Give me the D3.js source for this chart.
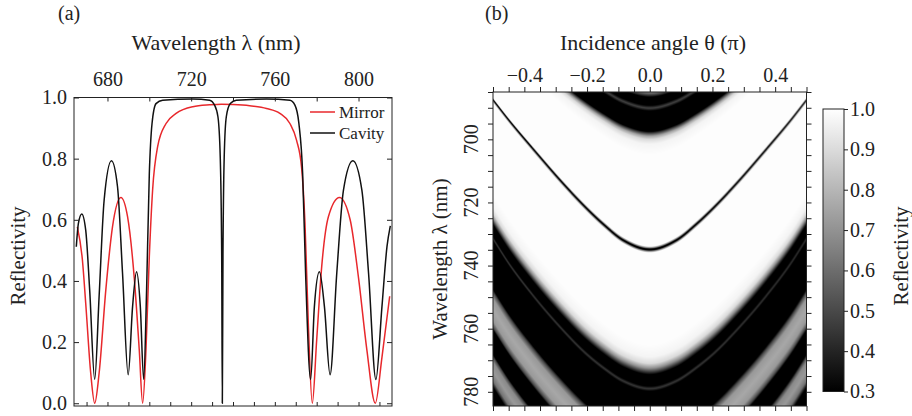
<!DOCTYPE html>
<html>
<head>
<meta charset="utf-8">
<script src="https://cdn.jsdelivr.net/npm/d3@7"></script>
<style>
body { margin: 0; background: #fff; }
svg { font-family: "Liberation Serif", "Times New Roman", serif; }
.axis line { stroke: #222; }
.axis path { display: none; }
.axis text { font-size: 20px; fill: #222; font-family: "Liberation Serif", "Times New Roman", serif; }
</style>
</head>
<body>
<svg id="fig" width="912" height="416"></svg>
<script>
// ---- panel (a): reflectivity spectra ----
var wlMirror = [665.6, 668, 669.6, 672, 673.9, 676, 679.2, 682.4, 686.4, 689.6, 692.8, 695.2, 696.8, 698.4, 700, 701.6, 704, 708, 712.8, 720.8, 728.8, 734.4, 740, 748, 756, 762.4, 767.2, 770.4, 772.8, 774.4, 776, 777.9, 780, 782.4, 785.6, 790.9, 796, 800, 804, 808, 811.2, 814.9];
var rMirror = [0.577, 0.47, 0.327, 0.098, 0.0, 0.098, 0.37, 0.577, 0.673, 0.61, 0.41, 0.174, 0.0, 0.174, 0.48, 0.70, 0.84, 0.915, 0.948, 0.97, 0.976, 0.978, 0.977, 0.973, 0.964, 0.948, 0.915, 0.86, 0.77, 0.59, 0.26, 0.0, 0.207, 0.447, 0.61, 0.673, 0.6, 0.41, 0.174, 0.0, 0.15, 0.35];

var wlCavity = [665.1, 666.1, 667.7, 669.6, 671.5, 673.9, 676, 678.4, 681.9, 684.8, 687.2, 689.9, 692, 693.9, 695.7, 697.3, 698.7, 700, 701.3, 703.2, 706.4, 720.8, 728.8, 731.2, 732.8, 733.9, 734.6, 734.9, 735.2, 735.8, 736.8, 738.7, 741.6, 756, 767.2, 769.6, 771.5, 773.3, 774.7, 777.1, 778.9, 781.3, 783.7, 786.4, 789.6, 792.8, 797.3, 801.6, 804.8, 808.3, 811.2, 813.6, 815.2];
var rCavity = [0.512, 0.588, 0.619, 0.566, 0.37, 0.078, 0.349, 0.664, 0.793, 0.708, 0.425, 0.093, 0.316, 0.43, 0.316, 0.078, 0.37, 0.75, 0.915, 0.98, 0.991, 0.995, 0.991, 0.975, 0.937, 0.806, 0.48, 0.0, 0.48, 0.806, 0.937, 0.98, 0.991, 0.995, 0.991, 0.975, 0.915, 0.75, 0.425, 0.078, 0.316, 0.43, 0.316, 0.093, 0.425, 0.697, 0.793, 0.697, 0.425, 0.078, 0.316, 0.512, 0.58];

var seriesNames = ["Mirror", "Cavity"];
var seriesColors = ["#e8282c", "#111"];

var topTicksA = [680, 700, 720, 740, 760, 780, 800];
var topLabelsA = [680, 720, 760, 800];
var bottomTicksA = [670, 680, 690, 700, 710, 720, 730, 740, 750, 760, 770, 780, 790, 800, 810];
var yTicksA = [0, 0.2, 0.4, 0.6, 0.8, 1.0];

// ---- panel (b): angle-resolved reflectivity map ----
// reflectivity profile at normal incidence, read down the map (centre column, then edge column)
var mapLambda = [680, 684, 685, 686, 686.8, 688, 689.2, 690.1, 691, 692, 694, 696.5, 697.5, 698.3, 699, 700, 701.5, 705, 733.9, 734.45, 734.9, 735.35, 735.9, 765, 769, 771, 772.5, 774, 775.3, 777, 778.2, 779, 779.8, 781, 790, 794, 796, 798, 801.5, 805, 807, 808.5, 811.5, 815, 816.5, 818, 821, 824, 826, 827.5, 840];
var mapR = [0.8, 0.78, 0.68, 0.45, 0.25, 0.1, 0.3, 0.48, 0.3, 0.1, 0.05, 0.1, 0.3, 0.55, 0.75, 0.9, 0.97, 0.995, 0.995, 0.6, 0.05, 0.6, 0.995, 0.995, 0.97, 0.9, 0.7, 0.4, 0.15, 0.1, 0.3, 0.45, 0.3, 0.1, 0.05, 0.1, 0.5, 0.72, 0.76, 0.72, 0.5, 0.15, 0.05, 0.15, 0.5, 0.68, 0.72, 0.62, 0.3, 0.1, 0.05];

// blue shift (nm) of three features versus |theta|, read along each feature
var featureTheta = [0, 0.084, 0.148, 0.211, 0.286, 0.36, 0.445, 0.5];
var shiftTop = [0, 2.1, 5.7, 9.9, 15.6, 21.7, 28.8, 33.7];      // upper band edge (699 nm)
var shiftMode = [0, 2.9, 8.0, 14.0, 22, 30.5, 40.5, 47.5];      // cavity mode (735 nm)
var shiftBottom = [0, 2.4, 6.6, 11.8, 19.5, 28, 39, 47.5];      // lower band edge (773 nm)
var shiftAnchor = [699, 735, 773];

var thetaTicks = d3.range(-10, 11).map(function(i) { return i * 5; });   // in 1/100
var lambdaTicks = d3.range(685, 785, 5);
var lambdaLabels = [700, 720, 740, 760, 780];
var cbarTicks = [0.3, 0.4, 0.5, 0.6, 0.7, 0.8, 0.9, 1.0];

// monotone cubic through read points, flat at theta = 0
function smoothCurve(xs, ys) {
    var n = xs.length, d = [], m = [];
    for (var i = 0; i < n - 1; i++) d[i] = (ys[i + 1] - ys[i]) / (xs[i + 1] - xs[i]);
    m[0] = 0; m[n - 1] = d[n - 2];
    for (i = 1; i < n - 1; i++) m[i] = d[i - 1] * d[i] <= 0 ? 0 : (d[i - 1] + d[i]) / 2;
    return function(x) {
        var k = Math.max(0, Math.min(n - 2, d3.bisectRight(xs, x) - 1));
        var h = xs[k + 1] - xs[k], t = (x - xs[k]) / h, t2 = t * t, t3 = t2 * t;
        return (2 * t3 - 3 * t2 + 1) * ys[k] + (t3 - 2 * t2 + t) * h * m[k]
            + (-2 * t3 + 3 * t2) * ys[k + 1] + (t3 - t2) * h * m[k + 1];
    };
}

var svg = d3.select("#fig");
svg.append("rect").attr("width", 912).attr("height", 416).attr("fill", "#fff");

// ================= panel (a) =================
var xA = d3.scaleLinear().domain([664, 816]).range([74, 392]);
var yA = d3.scaleLinear().domain([-0.009, 1]).range([406, 97.5]);

svg.append("clipPath").attr("id", "clipA").append("rect")
    .attr("x", 74).attr("y", 97.5).attr("width", 318).attr("height", 308.5);

var line = d3.line()
    .x(function(d) { return xA(d[0]); })
    .y(function(d) { return yA(d[1]); })
    .curve(d3.curveMonotoneX);

var gA = svg.append("g").attr("clip-path", "url(#clipA)");
gA.append("path").datum(d3.zip(wlMirror, rMirror))
    .attr("d", line).attr("fill", "none").attr("stroke", seriesColors[0]).attr("stroke-width", 1.5);
gA.append("path").datum(d3.zip(wlCavity, rCavity))
    .attr("d", line).attr("fill", "none").attr("stroke", seriesColors[1]).attr("stroke-width", 1.5);

svg.append("g").attr("class", "axis").attr("transform", "translate(0,97.5)")
    .call(d3.axisTop(xA).tickValues(topTicksA).tickSize(-4).tickSizeOuter(0).tickPadding(12)
        .tickFormat(function(d) { return topLabelsA.indexOf(d) >= 0 ? d : ""; }));
svg.append("g").attr("class", "axis").attr("transform", "translate(0,406)")
    .call(d3.axisBottom(xA).tickValues(bottomTicksA).tickSize(-4).tickSizeOuter(0).tickFormat(""));
svg.append("g").attr("class", "axis").attr("transform", "translate(74,0)")
    .call(d3.axisLeft(yA).tickValues(yTicksA).tickSize(-5).tickSizeOuter(0).tickPadding(7).tickFormat(d3.format(".1f")));
svg.append("g").attr("class", "axis").attr("transform", "translate(392,0)")
    .call(d3.axisRight(yA).tickValues(yTicksA).tickSize(-5).tickSizeOuter(0).tickFormat(""));

svg.append("rect").attr("x", 74).attr("y", 97.5).attr("width", 318).attr("height", 308.5)
    .attr("fill", "none").attr("stroke", "#222").attr("stroke-width", 1);

// legend
seriesNames.forEach(function(name, i) {
    var ly = 112 + i * 21;
    svg.append("line").attr("x1", 310).attr("x2", 335).attr("y1", ly).attr("y2", ly)
        .attr("stroke", seriesColors[i]).attr("stroke-width", 1.5);
    svg.append("text").attr("x", 339).attr("y", ly + 6).attr("font-size", 17).attr("fill", "#222").text(name);
});

svg.append("text").attr("x", 58).attr("y", 20).attr("font-size", 20).attr("fill", "#222").text("(a)");
svg.append("text").attr("x", 216).attr("y", 50).attr("font-size", 22).attr("text-anchor", "middle")
    .attr("fill", "#222").text("Wavelength λ (nm)");
svg.append("text").attr("transform", "translate(25,256) rotate(-90)").attr("font-size", 21)
    .attr("text-anchor", "middle").attr("fill", "#222").text("Reflectivity");

// ================= panel (b) =================
var xB = d3.scaleLinear().domain([-0.5, 0.5]).range([493, 806.5]);
var yB = d3.scaleLinear().domain([685, 784.5]).range([92, 406]);
var grayB = d3.scaleLinear().domain([0.3, 1]).range([0, 255]).clamp(true);
var colorB = d3.scaleLinear().domain([0.3, 1]).range(["#000", "#fff"]).clamp(true);
var profile = d3.scaleLinear().domain(mapLambda).range(mapR).clamp(true);
var sTopAt = smoothCurve(featureTheta, shiftTop);
var sModeAt = smoothCurve(featureTheta, shiftMode);
var sBotAt = smoothCurve(featureTheta, shiftBottom);

var ss = 2;
var x0 = xB.range()[0], y0 = yB.range()[0];
var W = Math.round((xB.range()[1] - x0) * ss), H = Math.round((yB.range()[1] - y0) * ss);
var canvas = document.createElement("canvas");
canvas.width = W; canvas.height = H;
var ctx = canvas.getContext("2d");
var img = ctx.createImageData(W, H);
for (var i = 0; i < W; i++) {
    var th = Math.abs(xB.invert(x0 + (i + 0.5) / ss));
    var shift = d3.scaleLinear().domain(shiftAnchor)
        .range([sTopAt(th), sModeAt(th), sBotAt(th)]).clamp(true);
    for (var j = 0; j < H; j++) {
        var lam = yB.invert(y0 + (j + 0.5) / ss);
        var u = lam;
        for (var k = 0; k < 8; k++) u = lam + shift(u);
        var g = Math.round(grayB(profile(u)));
        var p = (j * W + i) * 4;
        img.data[p] = g; img.data[p + 1] = g; img.data[p + 2] = g; img.data[p + 3] = 255;
    }
}
ctx.putImageData(img, 0, 0);
svg.append("image").attr("x", x0).attr("y", y0)
    .attr("width", W / ss).attr("height", H / ss)
    .attr("preserveAspectRatio", "none")
    .attr("href", canvas.toDataURL());

var xBh = d3.scaleLinear().domain([-50, 50]).range(xB.range());
svg.append("g").attr("class", "axis").attr("transform", "translate(0,92)")
    .call(d3.axisTop(xBh).tickValues(thetaTicks).tickSize(5).tickSizeOuter(0).tickPadding(5)
        .tickFormat(function(d) {
            return (d % 20 === 0 && Math.abs(d) <= 40) ? d3.format(".1f")(d / 100) : "";
        }));
svg.append("g").attr("class", "axis").attr("transform", "translate(0,406)")
    .call(d3.axisBottom(xBh).tickValues(thetaTicks).tickSize(5).tickSizeOuter(0).tickFormat(""));
svg.append("g").attr("class", "axis").attr("transform", "translate(493,0)")
    .call(d3.axisLeft(yB).tickValues(lambdaTicks).tickSize(5).tickSizeOuter(0).tickFormat(""));
svg.append("g").attr("class", "axis").attr("transform", "translate(806.5,0)")
    .call(d3.axisRight(yB).tickValues(lambdaTicks).tickSize(5).tickSizeOuter(0).tickFormat(""));

lambdaLabels.forEach(function(v) {
    svg.append("text").attr("transform", "translate(478," + yB(v) + ") rotate(-90)")
        .attr("text-anchor", "middle").attr("font-size", 20).attr("fill", "#222").text(v);
});

svg.append("rect").attr("x", 493).attr("y", 92).attr("width", 313.5).attr("height", 314)
    .attr("fill", "none").attr("stroke", "#222").attr("stroke-width", 1);

svg.append("text").attr("x", 485).attr("y", 20).attr("font-size", 20).attr("fill", "#222").text("(b)");
svg.append("text").attr("x", 653).attr("y", 50).attr("font-size", 22).attr("text-anchor", "middle")
    .attr("fill", "#222").text("Incidence angle θ (π)");
svg.append("text").attr("transform", "translate(447,259) rotate(-90)").attr("font-size", 21)
    .attr("text-anchor", "middle").attr("fill", "#222").text("Wavelength λ (nm)");

// colorbar
var yC = d3.scaleLinear().domain([0.3, 1]).range([391.5, 109]);
var grad = svg.append("defs").append("linearGradient").attr("id", "cbar")
    .attr("x1", 0).attr("y1", 1).attr("x2", 0).attr("y2", 0);
d3.range(0, 15).forEach(function(s) {
    var v = 0.3 + s * 0.05;
    grad.append("stop").attr("offset", (v - 0.3) / 0.7).attr("stop-color", colorB(v));
});
svg.append("rect").attr("x", 823).attr("y", 109).attr("width", 21).attr("height", 282.5)
    .attr("fill", "url(#cbar)").attr("stroke", "#222").attr("stroke-width", 1);
svg.append("g").attr("class", "axis").attr("transform", "translate(844,0)")
    .call(d3.axisRight(yC).tickValues(cbarTicks).tickSize(4).tickSizeOuter(0).tickPadding(2)
        .tickFormat(d3.format(".1f")));
svg.append("text").attr("transform", "translate(908,256) rotate(-90)").attr("font-size", 21)
    .attr("text-anchor", "middle").attr("fill", "#222").text("Reflectivity");
</script>
</body>
</html>
